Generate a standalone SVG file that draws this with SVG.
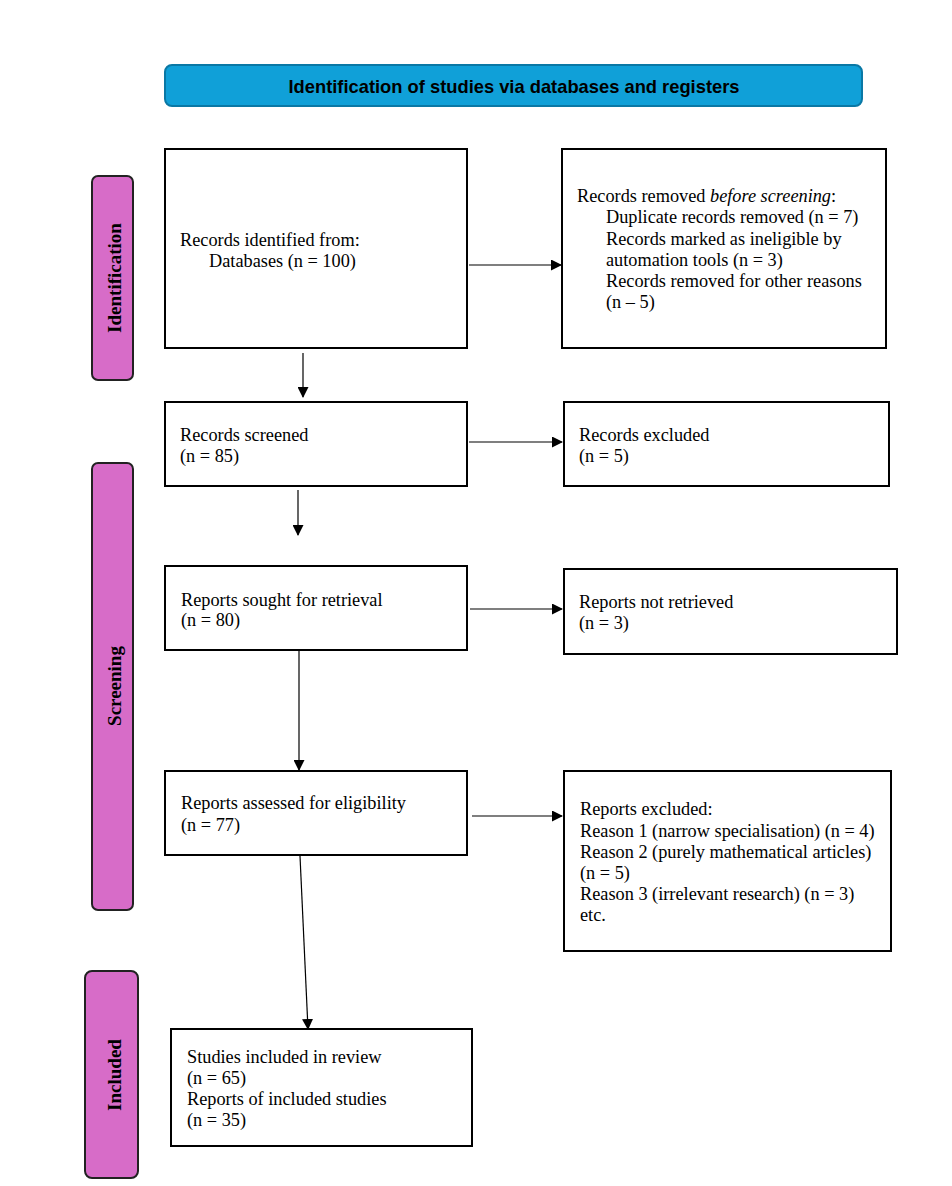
<svg xmlns="http://www.w3.org/2000/svg" width="952" height="1186" viewBox="0 0 952 1186">
<style>
.box{fill:#fff;stroke:#000;stroke-width:2}
.side{fill:#D76CC8;stroke:#222;stroke-width:2}
.t{font-family:"Liberation Serif","Times New Roman",serif;font-size:18.3px;fill:#000}
.st{font-family:"Liberation Serif","Times New Roman",serif;font-size:19px;font-weight:bold;fill:#000}
.ln{stroke:#000;stroke-width:1.2;fill:none;marker-end:url(#ah)}
</style>
<defs>
<marker id="ah" markerWidth="11" markerHeight="11" refX="10" refY="5.5" orient="auto" markerUnits="userSpaceOnUse">
<path d="M0,0 L11,5.5 L0,11 z" fill="#000"/>
</marker>
</defs>
<rect width="952" height="1186" fill="#fff"/>
<g id="title">
<rect x="165" y="65" width="697" height="41" rx="7" fill="#10A0D8" stroke="#0A78A5" stroke-width="2"/>
<text x="514" y="93" text-anchor="middle" font-family="Liberation Sans,Arial,sans-serif" font-weight="bold" font-size="19" textLength="451" lengthAdjust="spacingAndGlyphs">Identification of studies via databases and registers</text>
</g>
<g id="side-identification">
<rect class="side" x="92" y="176" width="41" height="204" rx="6"/>
<text class="st" transform="translate(121,278) rotate(-90)" text-anchor="middle">Identification</text>
</g>
<g id="side-screening">
<rect class="side" x="92" y="463" width="41" height="447" rx="6"/>
<text class="st" transform="translate(121,686) rotate(-90)" text-anchor="middle">Screening</text>
</g>
<g id="side-included">
<rect class="side" x="85" y="971" width="53" height="207" rx="7"/>
<text class="st" transform="translate(121,1075) rotate(-90)" text-anchor="middle">Included</text>
</g>
<g id="n-identified">
<rect class="box" x="165" y="149" width="302" height="199"/>
<text class="t" x="180" y="246">Records identified from:</text>
<text class="t" x="209" y="267">Databases (n = 100)</text>
</g>
<g id="n-removed">
<rect class="box" x="562" y="149" width="324" height="199"/>
<text class="t" x="577" y="202">Records removed <tspan font-style="italic">before screening</tspan>:</text>
<text class="t" x="606" y="223">Duplicate records removed (n = 7)</text>
<text class="t" x="606" y="245">Records marked as ineligible by</text>
<text class="t" x="606" y="266">automation tools (n = 3)</text>
<text class="t" x="606" y="287">Records removed for other reasons</text>
<text class="t" x="606" y="308">(n – 5)</text>
</g>
<g id="n-screened">
<rect class="box" x="165" y="402" width="302" height="84"/>
<text class="t" x="180" y="441">Records screened</text>
<text class="t" x="180" y="462">(n = 85)</text>
</g>
<g id="n-excluded">
<rect class="box" x="564" y="402" width="325" height="84"/>
<text class="t" x="579" y="441">Records excluded</text>
<text class="t" x="579" y="462">(n = 5)</text>
</g>
<g id="n-sought">
<rect class="box" x="165" y="566" width="302" height="84"/>
<text class="t" x="181" y="606">Reports sought for retrieval</text>
<text class="t" x="181" y="626">(n = 80)</text>
</g>
<g id="n-notretrieved">
<rect class="box" x="564" y="569" width="333" height="85"/>
<text class="t" x="579" y="608">Reports not retrieved</text>
<text class="t" x="579" y="629">(n = 3)</text>
</g>
<g id="n-assessed">
<rect class="box" x="165" y="771" width="302" height="84"/>
<text class="t" x="181" y="809">Reports assessed for eligibility</text>
<text class="t" x="181" y="831">(n = 77)</text>
</g>
<g id="n-reportsexcluded">
<rect class="box" x="564" y="771" width="327" height="180"/>
<text class="t" x="580" y="815">Reports excluded:</text>
<text class="t" x="580" y="837">Reason 1 (narrow specialisation) (n = 4)</text>
<text class="t" x="580" y="858">Reason 2 (purely mathematical articles)</text>
<text class="t" x="580" y="879">(n = 5)</text>
<text class="t" x="580" y="900">Reason 3 (irrelevant research) (n = 3)</text>
<text class="t" x="580" y="921">etc.</text>
</g>
<g id="n-included">
<rect class="box" x="171" y="1029" width="301" height="117"/>
<text class="t" x="187" y="1063">Studies included in review</text>
<text class="t" x="187" y="1084">(n = 65)</text>
<text class="t" x="187" y="1105">Reports of included studies</text>
<text class="t" x="187" y="1126">(n = 35)</text>
</g>
<g id="connectors">
<line class="ln" x1="469" y1="265" x2="561" y2="265"/>
<line class="ln" x1="303" y1="353" x2="303" y2="397"/>
<line class="ln" x1="469" y1="442" x2="562" y2="442"/>
<line class="ln" x1="298" y1="490" x2="298" y2="535"/>
<line class="ln" x1="470" y1="609" x2="562" y2="609"/>
<line class="ln" x1="299" y1="651" x2="299" y2="770"/>
<line class="ln" x1="472" y1="816" x2="562" y2="816"/>
<line class="ln" x1="300" y1="856" x2="308" y2="1029"/>
</g>
</svg>
